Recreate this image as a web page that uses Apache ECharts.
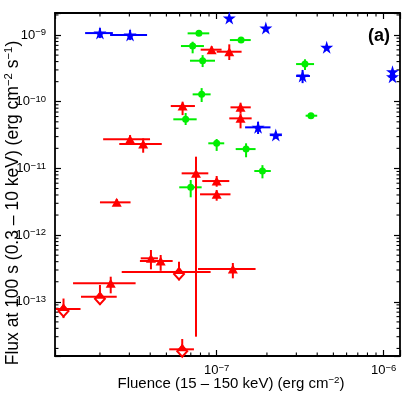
<!DOCTYPE html>
<html>
<head>
<meta charset="utf-8">
<script src="https://cdn.jsdelivr.net/npm/echarts@6/dist/echarts.min.js"></script>
<style>
html, body { margin: 0; padding: 0; background: #fff; }
#chart { width: 409px; height: 395px; }
</style>
</head>
<body>
<div id="chart"></div>
<script>
// rows: [fluence, flux, fluenceLo, fluenceHi, fluxLo, fluxHi]
const blueStars = [
  [2.0e-8, 1.07e-9, 1.63e-8, 2.39e-8, 9.0e-10, 1.27e-9],
  [3.03e-8, 1.0e-9, 2.30e-8, 3.83e-8, 8.4e-10, 1.19e-9],
  [1.19e-7, 1.80e-9, 1.19e-7, 1.19e-7, 1.80e-9, 1.80e-9],
  [1.97e-7, 1.27e-9, 1.97e-7, 1.97e-7, 1.27e-9, 1.27e-9],
  [4.56e-7, 6.54e-10, 4.56e-7, 4.56e-7, 6.54e-10, 6.54e-10],
  [3.27e-7, 2.43e-10, 2.99e-7, 3.62e-7, 1.9e-10, 2.99e-10],
  [1.13e-6, 2.82e-10, 1.13e-6, 1.13e-6, 2.82e-10, 2.82e-10],
  [1.13e-6, 2.37e-10, 1.13e-6, 1.13e-6, 2.37e-10, 2.37e-10],
  [1.77e-7, 4.13e-11, 1.48e-7, 2.10e-7, 3.28e-11, 5.0e-11],
  [2.26e-7, 3.16e-11, 2.08e-7, 2.46e-7, 2.8e-11, 3.5e-11]
];
const greenDots = [
  [7.83e-8, 1.06e-9, 6.7e-8, 9.03e-8, 1.0e-9, 1.13e-9],
  [7.18e-8, 6.84e-10, 6.11e-8, 8.39e-8, 5.32e-10, 7.94e-10],
  [8.24e-8, 4.12e-10, 6.92e-8, 9.77e-8, 3.31e-10, 5.0e-10],
  [1.40e-7, 8.41e-10, 1.20e-7, 1.60e-7, 7.9e-10, 8.9e-10],
  [8.13e-8, 1.29e-10, 7.18e-8, 9.2e-8, 9.9e-11, 1.6e-10],
  [6.52e-8, 5.45e-11, 5.5e-8, 7.59e-8, 4.48e-11, 6.78e-11],
  [3.38e-7, 3.67e-10, 2.99e-7, 3.83e-7, 2.99e-10, 4.33e-10],
  [3.67e-7, 6.17e-11, 3.41e-7, 4.0e-7, 5.8e-11, 6.6e-11],
  [1.0e-7, 2.38e-11, 8.91e-8, 1.11e-7, 1.83e-11, 2.76e-11],
  [1.50e-7, 1.95e-11, 1.30e-7, 1.71e-7, 1.47e-11, 2.38e-11],
  [1.88e-7, 9.14e-12, 1.68e-7, 2.11e-7, 7.1e-12, 1.12e-11],
  [6.99e-8, 5.21e-12, 5.97e-8, 8.13e-8, 3.69e-12, 6.7e-12]
];
const redTriangles = [
  [9.33e-8, 6.03e-10, 8.02e-8, 1.07e-7, 5.4e-10, 6.8e-10],
  [1.19e-7, 5.62e-10, 1.0e-7, 1.41e-7, 4.22e-10, 7.25e-10],
  [6.25e-8, 8.62e-11, 5.31e-8, 7.41e-8, 6.3e-11, 1.0e-10],
  [1.39e-7, 8.24e-11, 1.21e-7, 1.60e-7, 6.7e-11, 9.67e-11],
  [1.39e-7, 5.63e-11, 1.19e-7, 1.62e-7, 3.99e-11, 6.7e-11],
  [3.03e-8, 2.73e-11, 2.09e-8, 3.99e-8, 2.32e-11, 3.16e-11],
  [3.63e-8, 2.32e-11, 2.61e-8, 4.69e-8, 1.72e-11, 2.82e-11],
  [2.52e-8, 3.1e-12, 2.0e-8, 3.05e-8, 2.82e-12, 3.48e-12],
  [7.52e-8, 8.44e-12, 6.17e-8, 8.91e-8, 3.0e-14, 1.5e-11],
  [1.0e-7, 6.47e-12, 8.2e-8, 1.19e-7, 5.32e-12, 7.7e-12],
  [1.0e-7, 4.09e-12, 7.95e-8, 1.21e-7, 3.28e-12, 4.74e-12],
  [4.04e-8, 4.49e-13, 3.51e-8, 4.45e-8, 3.07e-13, 5.98e-13],
  [4.62e-8, 4.09e-13, 3.47e-8, 5.45e-8, 2.92e-13, 5.03e-13],
  [1.25e-7, 3.1e-13, 7.73e-8, 1.71e-7, 2.25e-13, 3.82e-13],
  [2.32e-8, 1.89e-13, 1.38e-8, 3.27e-8, 1.34e-13, 2.38e-13]
];
const redLimits = [
  [5.95e-8, 2.8e-13, 2.7e-8, 9.2e-8, 2.1e-13, 3.99e-13],
  [2.0e-8, 1.19e-13, 1.54e-8, 2.52e-8, 8.95e-14, 1.79e-13],
  [1.21e-8, 7.8e-14, 1.09e-8, 1.53e-8, 5.7e-14, 1.12e-13],
  [6.22e-8, 1.94e-14, 5.2e-8, 7.31e-8, 1.5e-14, 2.77e-14]
];

const xRange = [1.076e-8, 1.253e-6];
const yRange = [1.54e-14, 2.14e-9];
const xDecades = [-8, -7, -6];
const yDecades = [-14, -13, -12, -11, -10, -9];
const minorSteps = [2, 3, 4, 5, 6, 7, 8, 9];

const FONT = 'Liberation Sans, Arial, sans-serif';
const STAR = 'path://M50,0 L61,35 L98,35 L68,57 L79,91 L50,70 L21,91 L32,57 L2,35 L39,35 Z';

function minorTicks(decades, range) {
  const out = [];
  decades.forEach(function (e) {
    minorSteps.forEach(function (m) {
      const v = m * Math.pow(10, e);
      if (v > range[0] && v < range[1]) out.push(v);
    });
  });
  return out;
}

function powLabel(v) {
  const lg = Math.log10(v);
  const e = Math.round(lg);
  if (Math.abs(lg - e) > 1e-6) return '';
  return '{b|10}{s|\u2212' + (-e) + '}';
}

const labelRich = {
  b: { fontSize: 13, fontFamily: FONT, color: '#000', lineHeight: 15 },
  s: { fontSize: 9.5, fontFamily: FONT, color: '#000', verticalAlign: 'top', lineHeight: 10 }
};

function errorBars(color, width) {
  return function (params, api) {
    const c = api.coord([api.value(0), api.value(1)]);
    const xl = api.coord([api.value(2), api.value(1)]);
    const xh = api.coord([api.value(3), api.value(1)]);
    const yl = api.coord([api.value(0), api.value(4)]);
    const yh = api.coord([api.value(0), api.value(5)]);
    const style = { stroke: color, lineWidth: width };
    return {
      type: 'group',
      children: [
        { type: 'line', shape: { x1: xl[0], y1: c[1], x2: xh[0], y2: c[1] }, style: style },
        { type: 'line', shape: { x1: c[0], y1: yl[1], x2: c[0], y2: yh[1] }, style: style }
      ]
    };
  };
}

function errSeries(rows, color) {
  return {
    type: 'custom',
    data: rows,
    renderItem: errorBars(color, 2),
    encode: { x: [0, 2, 3], y: [1, 4, 5] },
    clip: true,
    silent: true,
    z: 2
  };
}

const MINOR = 3.5;
const chart = echarts.init(document.getElementById('chart'));

const baseX = {
  type: 'log', logBase: 10, min: xRange[0], max: xRange[1],
  axisLine: { lineStyle: { color: '#000', width: 1.8 } },
  axisTick: { inside: true, length: 6, lineStyle: { color: '#000', width: 1.2 } },
  splitLine: { show: false }
};
const baseY = {
  type: 'log', logBase: 10, min: yRange[0], max: yRange[1],
  axisLine: { lineStyle: { color: '#000', width: 1.8 } },
  axisTick: { inside: true, length: 6, lineStyle: { color: '#000', width: 1.2 } },
  splitLine: { show: false }
};

const titleRich = function (size) {
  return {
    t: { fontSize: size, fontFamily: FONT, fill: '#000', lineHeight: size + 2 },
    s: { fontSize: size * 0.65, fontFamily: FONT, fill: '#000', verticalAlign: 'top', lineHeight: size * 0.7 }
  };
};

chart.setOption({
  animation: false,
  grid: { left: 55, right: 9, top: 13, bottom: 39, containLabel: false, outerBoundsMode: 'none' },
  xAxis: [
    Object.assign({}, baseX, {
      position: 'bottom',
      axisLabel: { formatter: powLabel, rich: labelRich, margin: 7, hideOverlap: false }
    }),
    Object.assign({}, baseX, { position: 'top', axisLabel: { show: false } })
  ],
  yAxis: [
    Object.assign({}, baseY, {
      position: 'left',
      axisLabel: { formatter: powLabel, rich: labelRich, margin: 9, hideOverlap: false }
    }),
    Object.assign({}, baseY, { position: 'right', axisLabel: { show: false } })
  ],
  graphic: [
    {
      type: 'text', x: 231, y: 384,
      style: {
        text: '{t|Fluence (15 \u2013 150 keV) (erg cm}{s|\u22122}{t|)}',
        align: 'center', verticalAlign: 'middle',
        rich: titleRich(15)
      }
    },
    {
      type: 'text', x: 13, y: 203, rotation: Math.PI / 2,
      style: {
        text: '{t|Flux at 100 s (0.3 \u2013 10 keV) (erg cm}{s|\u22122}{t| s}{s|\u22121}{t|)}',
        align: 'center', verticalAlign: 'middle',
        rich: titleRich(17.5)
      }
    },
    {
      type: 'text', x: 379, y: 36,
      style: { text: '(a)', font: 'bold 18px ' + FONT, fill: '#000', align: 'center', verticalAlign: 'middle' }
    }
  ],
  series: [
    {
      type: 'custom',
      data: minorTicks(xDecades, xRange).map(function (v) { return [v, yRange[0]]; }),
      renderItem: function (params, api) {
        const cs = params.coordSys;
        const px = api.coord([api.value(0), api.value(1)])[0];
        const st = { stroke: '#000', lineWidth: 1.1 };
        return {
          type: 'group', children: [
            { type: 'line', shape: { x1: px, y1: cs.y + cs.height, x2: px, y2: cs.y + cs.height - MINOR }, style: st },
            { type: 'line', shape: { x1: px, y1: cs.y, x2: px, y2: cs.y + MINOR }, style: st }
          ]
        };
      },
      silent: true, z: 1
    },
    {
      type: 'custom',
      data: minorTicks(yDecades, yRange).map(function (v) { return [xRange[0], v]; }),
      renderItem: function (params, api) {
        const cs = params.coordSys;
        const py = api.coord([api.value(0), api.value(1)])[1];
        const st = { stroke: '#000', lineWidth: 1.1 };
        return {
          type: 'group', children: [
            { type: 'line', shape: { x1: cs.x, y1: py, x2: cs.x + MINOR, y2: py }, style: st },
            { type: 'line', shape: { x1: cs.x + cs.width, y1: py, x2: cs.x + cs.width - MINOR, y2: py }, style: st }
          ]
        };
      },
      silent: true, z: 1
    },
    errSeries(greenDots, '#00ee00'),
    errSeries(blueStars, '#0000ff'),
    errSeries(redTriangles, '#ff0000'),
    errSeries(redLimits, '#ff0000'),
    {
      type: 'scatter', data: greenDots.map(function (r) { return [r[0], r[1]]; }),
      symbol: 'circle', symbolSize: 7, itemStyle: { color: '#00ee00', opacity: 1 }, z: 3
    },
    {
      type: 'scatter', data: blueStars.map(function (r) { return [r[0], r[1]]; }),
      symbol: STAR, symbolSize: 13, itemStyle: { color: '#0000ff', opacity: 1 }, z: 3
    },
    {
      type: 'scatter', data: redTriangles.map(function (r) { return [r[0], r[1]]; }),
      symbol: 'triangle', symbolSize: [10, 9], itemStyle: { color: '#ff0000', opacity: 1 }, z: 3
    },
    {
      type: 'scatter', data: redLimits.map(function (r) { return [r[0], r[1]]; }),
      symbol: 'emptyDiamond', symbolSize: [10, 11], symbolOffset: [0, 2],
      itemStyle: { color: '#ff0000', borderColor: '#ff0000', borderWidth: 1.5, opacity: 1 }, z: 3
    },
    {
      type: 'scatter', data: redLimits.map(function (r) { return [r[0], r[1]]; }),
      symbol: 'triangle', symbolSize: [9, 8], symbolOffset: [0, -2],
      itemStyle: { color: '#ff0000', opacity: 1 }, z: 4
    }
  ]
});
</script>
</body>
</html>
